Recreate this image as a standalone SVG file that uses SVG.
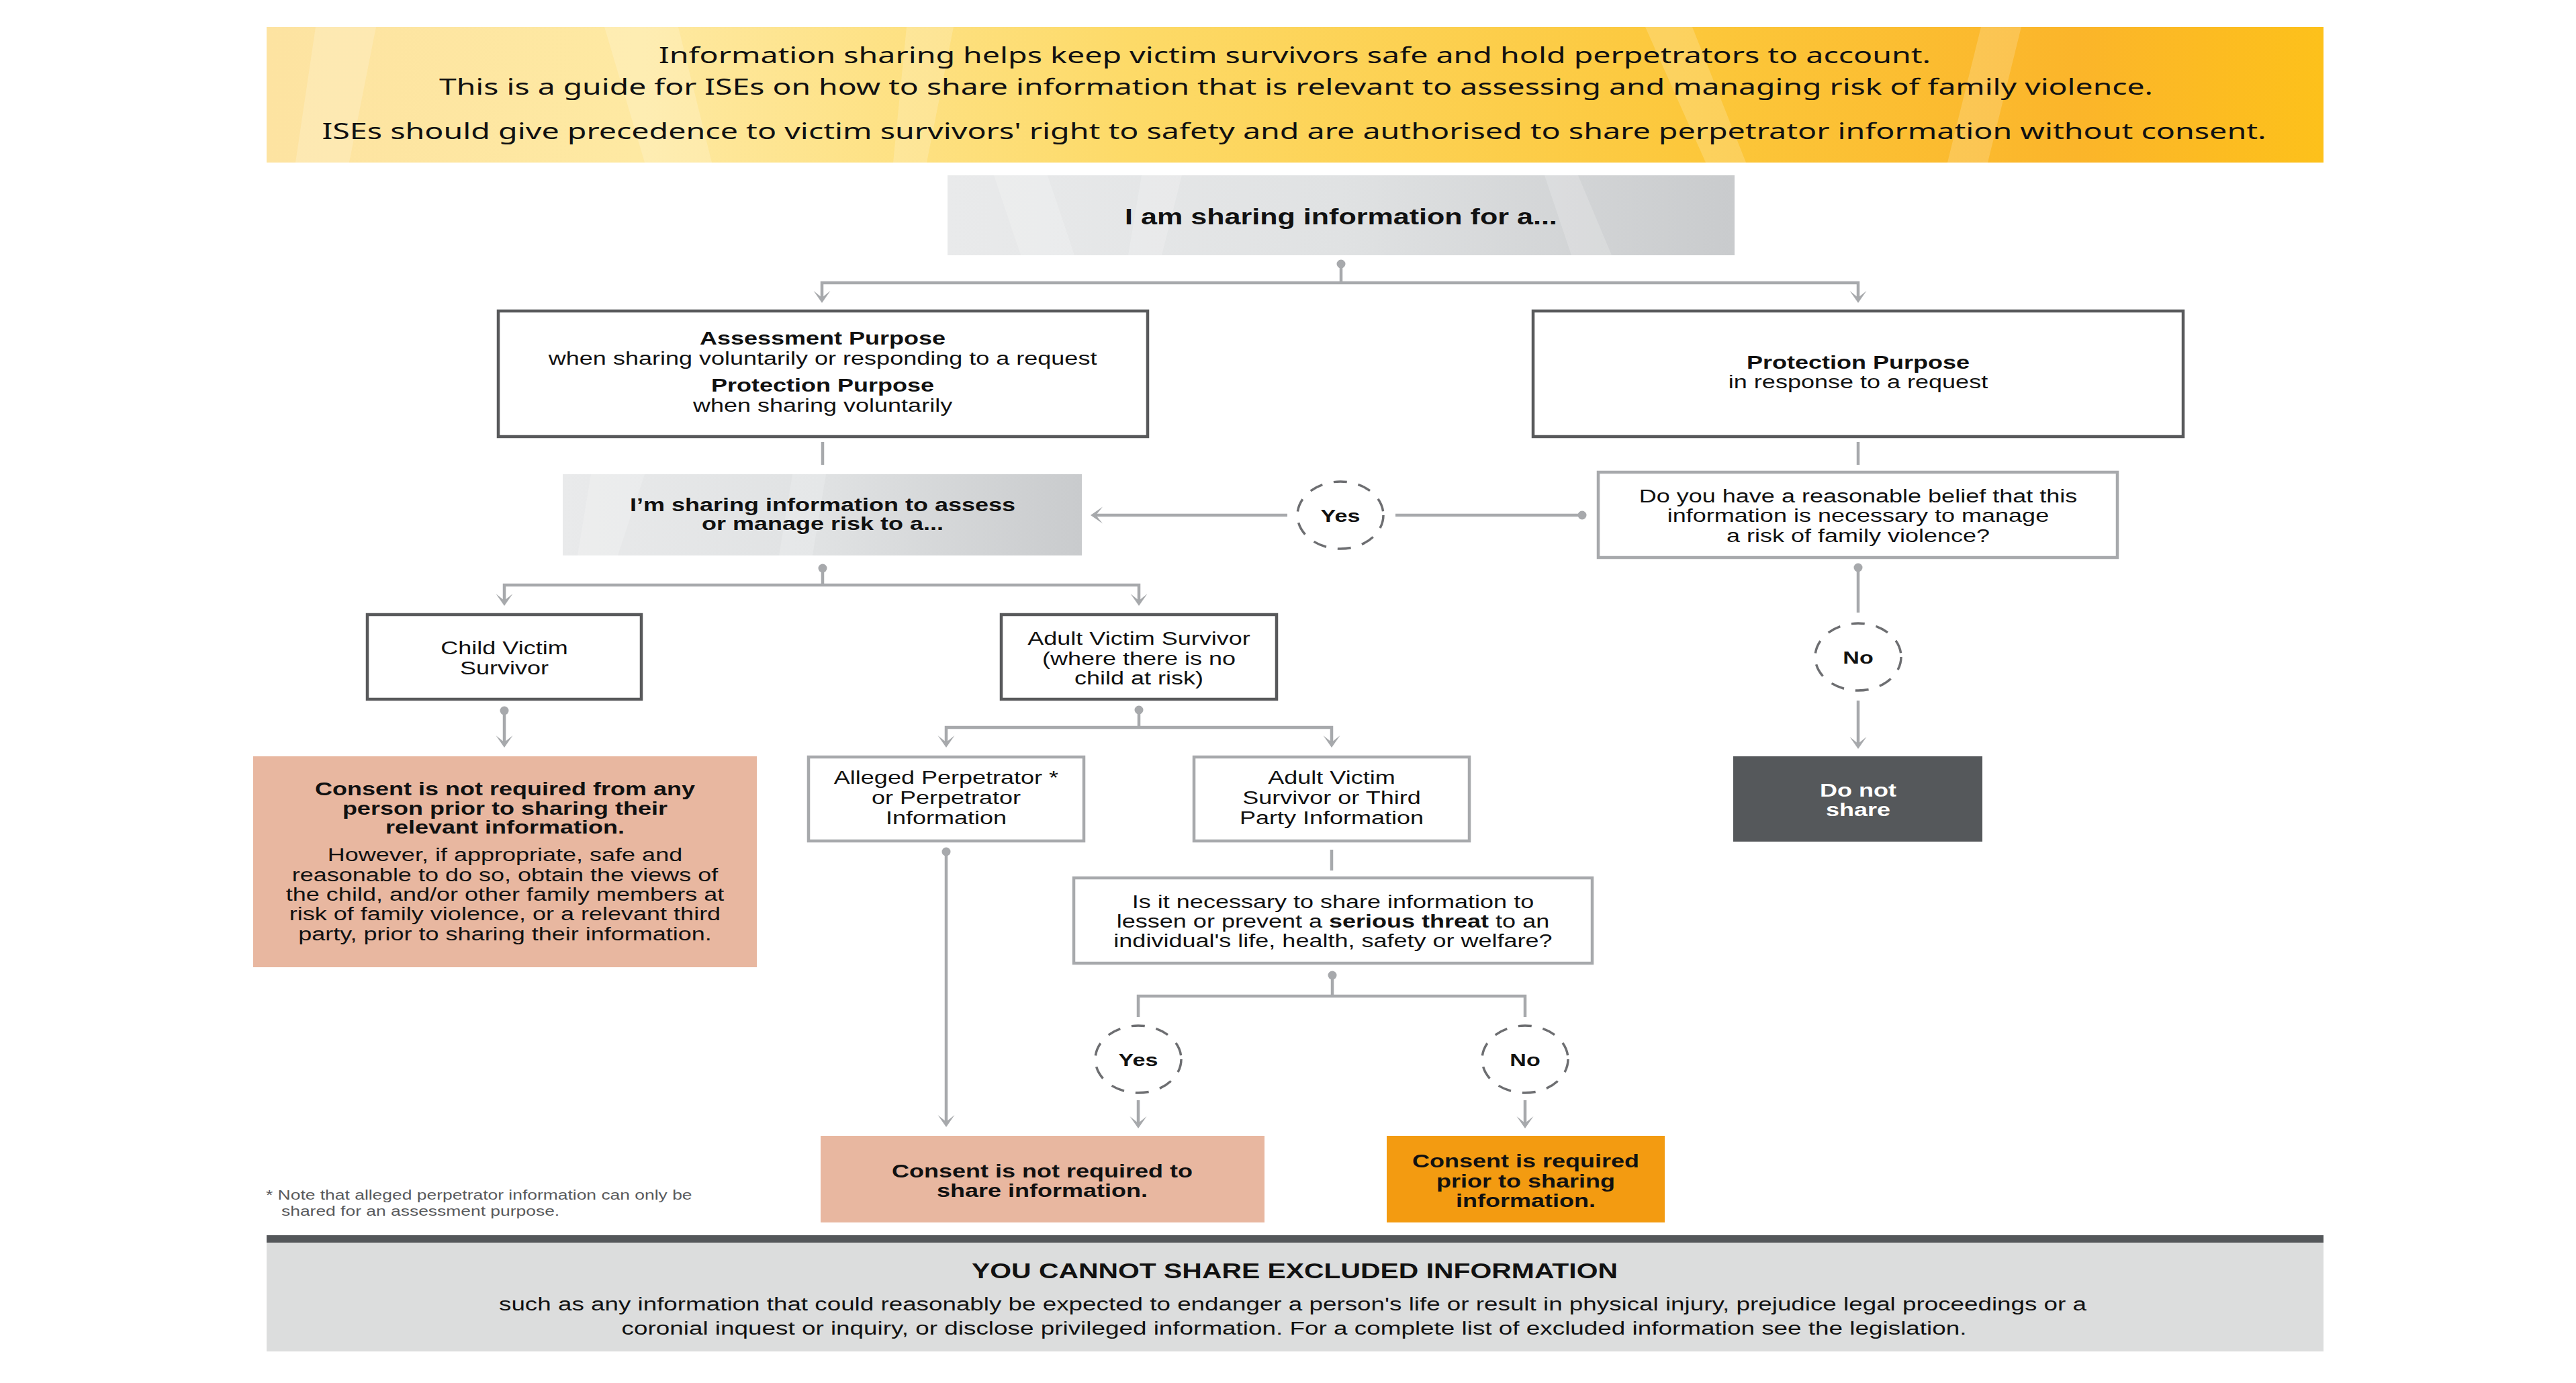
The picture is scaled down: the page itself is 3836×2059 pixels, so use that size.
<svg xmlns="http://www.w3.org/2000/svg" width="3836" height="2059" viewBox="0 0 3836 2059">
<defs>
<linearGradient id="gYellow" x1="0" y1="0" x2="1" y2="0">
<stop offset="0" stop-color="#fde3a1"/>
<stop offset="0.18" stop-color="#fee9a2"/>
<stop offset="0.42" stop-color="#fdda68"/>
<stop offset="0.7" stop-color="#fcc73a"/>
<stop offset="0.88" stop-color="#fbb52a"/>
<stop offset="1" stop-color="#fdc11b"/>
</linearGradient>
<linearGradient id="gGray" x1="0" y1="0" x2="1" y2="0">
<stop offset="0" stop-color="#e9eaeb"/>
<stop offset="0.5" stop-color="#e0e2e3"/>
<stop offset="1" stop-color="#c9cbcd"/>
</linearGradient>
<marker id="arrow" viewBox="-20 -14 22 28" markerWidth="22" markerHeight="28" refX="-8" refY="0" orient="auto" markerUnits="userSpaceOnUse">
<path d="M0,0 L-18,-12.5 L-8,0 L-18,12.5 Z" fill="#a7a9ac"/>
</marker>
<marker id="dot" viewBox="-8 -8 16 16" markerWidth="16" markerHeight="16" refX="0" refY="0" orient="auto" markerUnits="userSpaceOnUse">
<circle cx="0" cy="0" r="6.5" fill="#a7a9ac"/>
</marker>
<style>
.t{font-family:"Liberation Sans",Arial,sans-serif;font-size:28px;fill:#111;text-anchor:middle;transform-box:fill-box;transform-origin:center;transform:scaleX(1.286)}
.b{font-weight:bold}
.yn{font-size:26.5px}
.hd{font-family:"Noto Sans","Liberation Sans",sans-serif;font-size:33px;fill:#111;text-anchor:middle}
.ex{font-family:"Liberation Sans",Arial,sans-serif;fill:#111;text-anchor:middle}
.fn{font-family:"Liberation Sans",Arial,sans-serif;font-size:20.5px;fill:#58595b;transform-box:fill-box;transform-origin:0% 50%;transform:scaleX(1.29)}
.dk{fill:#fff;stroke:#58595b;stroke-width:4.5}
.lt{fill:#fff;stroke:#a7a9ac;stroke-width:4.5}
.cn{fill:none;stroke:#a7a9ac;stroke-width:4.5}
.ar{marker-end:url(#arrow)}
.dt{marker-start:url(#dot)}
.dash{fill:#fff;stroke:#6d6e71;stroke-width:3.5;stroke-dasharray:20 17}
.streak{fill:#fff;opacity:0.18}
</style>
</defs>
<rect width="3836" height="2059" fill="#fff"/>

<g id="header">
<rect x="397" y="40" width="3063" height="202" fill="url(#gYellow)"/>
<polygon class="streak" points="470,40 560,40 520,242 440,242"/>
<polygon class="streak" points="900,40 1010,40 1060,242 960,242"/>
<polygon class="streak" points="1350,40 1420,40 1380,242 1330,242"/>
<polygon class="streak" points="2450,40 2520,40 2600,242 2540,242"/>
<polygon class="streak" points="2950,40 3010,40 2960,242 2900,242"/>
<text class="hd" x="1928" y="94" textLength="1894" lengthAdjust="spacingAndGlyphs">Information sharing helps keep victim survivors safe and hold perpetrators to account.</text>
<text class="hd" x="1930" y="141" textLength="2552" lengthAdjust="spacingAndGlyphs">This is a guide for ISEs on how to share information that is relevant to assessing and managing risk of family violence.</text>
<text class="hd" x="1927" y="207" textLength="2895" lengthAdjust="spacingAndGlyphs">ISEs should give precedence to victim survivors' right to safety and are authorised to share perpetrator information without consent.</text>
</g>

<g id="connectors">
<path class="cn dt" d="M1997,393 V421"/>
<path class="cn ar" d="M1997,421 H1224 V443"/>
<path class="cn ar" d="M1997,421 H2767 V443"/>
<path class="cn" d="M1225,658 V692"/>
<path class="cn" d="M2767,658 V692"/>
<path class="cn dt" d="M2356,767 H2078"/>
<path class="cn ar" d="M1917,767 H1632"/>
<path class="cn dt" d="M1225,846 V871"/>
<path class="cn ar" d="M1225,871 H751 V894"/>
<path class="cn ar" d="M1225,871 H1696 V894"/>
<path class="cn dt ar" d="M751,1058 V1105"/>
<path class="cn dt" d="M1696,1057 V1083"/>
<path class="cn ar" d="M1696,1083 H1409 V1105"/>
<path class="cn ar" d="M1696,1083 H1983 V1105"/>
<path class="cn dt ar" d="M1409,1268 V1670"/>
<path class="cn" d="M1983,1265 V1296"/>
<path class="cn dt" d="M1984,1452 V1483"/>
<path class="cn" d="M1984,1483 H1695 V1514"/>
<path class="cn" d="M1984,1483 H2271 V1514"/>
<path class="cn ar" d="M1695,1638 V1672"/>
<path class="cn ar" d="M2271,1638 V1672"/>
<path class="cn dt" d="M2767,845 V912"/>
<path class="cn ar" d="M2767,1043 V1107"/>
</g>

<g id="start">
<rect x="1411" y="261" width="1172" height="119" fill="url(#gGray)"/>
<polygon class="streak" points="1480,261 1560,261 1600,380 1520,380"/>
<polygon class="streak" points="1700,261 1760,261 1730,380 1680,380"/>
<polygon class="streak" points="2300,261 2350,261 2400,380 2340,380"/>
<text class="t b" x="1997" y="334" style="font-size:33.5px">I am sharing information for a...</text>
</g>

<g id="assessment">
<rect class="dk" x="742" y="463" width="967" height="187"/>
<text class="t b" x="1225" y="513">Assessment Purpose</text>
<text class="t" x="1225" y="543">when sharing voluntarily or responding to a request</text>
<text class="t b" x="1225" y="583">Protection Purpose</text>
<text class="t" x="1225" y="613">when sharing voluntarily</text>
</g>

<g id="protection">
<rect class="dk" x="2283" y="463" width="968" height="187"/>
<text class="t b" x="2767" y="549">Protection Purpose</text>
<text class="t" x="2767" y="578">in response to a request</text>
</g>

<g id="assess-risk">
<rect x="838" y="706" width="773" height="121" fill="url(#gGray)"/>
<polygon class="streak" points="880,706 960,706 920,827 860,827"/>
<polygon class="streak" points="1180,706 1230,706 1210,827 1160,827"/>
<text class="t b" x="1225" y="761">I’m sharing information to assess</text>
<text class="t b" x="1225" y="789">or manage risk to a...</text>
</g>

<g id="yes1">
<ellipse class="dash" cx="1996" cy="767" rx="64" ry="50"/>
<text class="t b yn" x="1996" y="777">Yes</text>
</g>

<g id="reasonable-belief">
<rect class="lt" x="2380" y="703" width="773" height="127"/>
<text class="t" x="2767" y="748">Do you have a reasonable belief that this</text>
<text class="t" x="2767" y="777">information is necessary to manage</text>
<text class="t" x="2767" y="807">a risk of family violence?</text>
</g>

<g id="no1">
<ellipse class="dash" cx="2767" cy="978" rx="64" ry="50"/>
<text class="t b yn" x="2767" y="988">No</text>
</g>

<g id="do-not-share">
<rect x="2581" y="1126" width="371" height="127" fill="#55585b"/>
<text class="t b" x="2767" y="1186" style="fill:#fff">Do not</text>
<text class="t b" x="2767" y="1215" style="fill:#fff">share</text>
</g>

<g id="child">
<rect class="dk" x="547" y="915" width="408" height="126"/>
<text class="t" x="751" y="974">Child Victim</text>
<text class="t" x="751" y="1004">Survivor</text>
</g>

<g id="adult">
<rect class="dk" x="1491" y="915" width="410" height="126"/>
<text class="t" x="1696" y="960">Adult Victim Survivor</text>
<text class="t" x="1696" y="990">(where there is no</text>
<text class="t" x="1696" y="1019">child at risk)</text>
</g>

<g id="consent-child">
<rect x="377" y="1126" width="750" height="314" fill="#e8b7a0"/>
<text class="t b" x="752" y="1184">Consent is not required from any</text>
<text class="t b" x="752" y="1213">person prior to sharing their</text>
<text class="t b" x="752" y="1241">relevant information.</text>
<text class="t" x="752" y="1282">However, if appropriate, safe and</text>
<text class="t" x="752" y="1312">reasonable to do so, obtain the views of</text>
<text class="t" x="752" y="1341">the child, and/or other family members at</text>
<text class="t" x="752" y="1370">risk of family violence, or a relevant third</text>
<text class="t" x="752" y="1400">party, prior to sharing their information.</text>
</g>

<g id="alleged">
<rect class="lt" x="1204" y="1127" width="410" height="125"/>
<text class="t" x="1409" y="1167">Alleged Perpetrator *</text>
<text class="t" x="1409" y="1197">or Perpetrator</text>
<text class="t" x="1409" y="1227">Information</text>
</g>

<g id="third-party">
<rect class="lt" x="1778" y="1127" width="410" height="125"/>
<text class="t" x="1983" y="1167">Adult Victim</text>
<text class="t" x="1983" y="1197">Survivor or Third</text>
<text class="t" x="1983" y="1227">Party Information</text>
</g>

<g id="serious-threat">
<rect class="lt" x="1599" y="1307" width="772" height="127"/>
<text class="t" x="1985" y="1352">Is it necessary to share information to</text>
<text class="t" x="1985" y="1381">lessen or prevent a <tspan class="b">serious threat</tspan> to an</text>
<text class="t" x="1985" y="1410">individual's life, health, safety or welfare?</text>
</g>

<g id="yes2">
<ellipse class="dash" cx="1695" cy="1577" rx="64" ry="50"/>
<text class="t b yn" x="1695" y="1587">Yes</text>
</g>

<g id="no2">
<ellipse class="dash" cx="2271" cy="1577" rx="64" ry="50"/>
<text class="t b yn" x="2271" y="1587">No</text>
</g>

<g id="consent-not-required">
<rect x="1222" y="1691" width="661" height="129" fill="#e8b7a0"/>
<text class="t b" x="1552" y="1753">Consent is not required to</text>
<text class="t b" x="1552" y="1782">share information.</text>
</g>

<g id="consent-required">
<rect x="2065" y="1691" width="414" height="129" fill="#f39b11"/>
<text class="t b" x="2272" y="1738">Consent is required</text>
<text class="t b" x="2272" y="1768">prior to sharing</text>
<text class="t b" x="2272" y="1797">information.</text>
</g>

<g id="footnote">
<text class="fn" x="396" y="1786">* Note that alleged perpetrator information can only be</text>
<text class="fn" x="419" y="1810">shared for an assessment purpose.</text>
</g>

<g id="excluded">
<rect x="397" y="1850" width="3063" height="162" fill="#dcdddd"/>
<rect x="397" y="1839" width="3063" height="11" fill="#54575a"/>
<text class="ex b" x="1928" y="1903" style="font-size:31px" textLength="962" lengthAdjust="spacingAndGlyphs">YOU CANNOT SHARE EXCLUDED INFORMATION</text>
<text class="ex" x="1925" y="1951" style="font-size:27px" textLength="2364" lengthAdjust="spacingAndGlyphs">such as any information that could reasonably be expected to endanger a person's life or result in physical injury, prejudice legal proceedings or a</text>
<text class="ex" x="1927" y="1987" style="font-size:27px" textLength="2003" lengthAdjust="spacingAndGlyphs">coronial inquest or inquiry, or disclose privileged information. For a complete list of excluded information see the legislation.</text>
</g>
</svg>
